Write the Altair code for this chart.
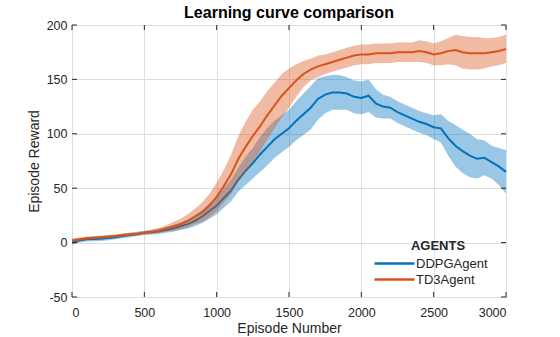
import altair as alt
import pandas as pd

episodes = list(range(0, 3001, 50))

td3_mean = [2, 3, 4, 4.5, 5, 5.5, 6, 7, 7.5, 8, 9, 10, 11, 13, 15, 17, 20, 24, 28, 34,
            42, 52, 63, 77, 88, 98, 107, 117, 126, 135, 142, 149, 155, 159, 162, 164,
            166, 168, 170, 172, 173, 173, 174, 174, 174, 175, 175, 175, 176, 175, 173,
            174, 176, 177, 175, 174, 174, 174, 175, 176, 178]
td3_hw = [2, 1.5, 1.5, 1.5, 1.5, 1.5, 1.5, 1.5, 1.5, 1.5, 1.5, 2, 2.5, 3, 4, 5, 6, 7, 9, 11,
          13, 15, 18, 21, 23, 24, 23, 22, 21, 20, 18, 15, 12, 10, 10, 9, 9, 9, 9, 9,
          9, 9, 9, 9, 9, 9, 9, 9, 10, 10, 10, 11, 12, 14, 15, 15, 15, 14, 13, 13, 13]

ddpg_mean = [0, 2, 3, 3.2, 3.5, 4.2, 5, 6, 7, 8, 9, 9.5, 10.5, 11.5, 13, 15, 17, 20, 24, 29,
             34, 41, 48, 58, 66, 73, 81, 88, 95, 100, 105, 112, 118, 124, 132, 136, 138,
             138, 137, 134, 133, 135, 128, 125, 124, 120, 117, 114, 111, 109, 106, 105,
             96, 89, 84, 80, 77, 78, 74, 70, 65]
ddpg_hw = [2, 2, 2, 2, 2, 2, 2, 2, 2, 2, 2, 2, 2.5, 2.5, 3, 3.5, 4, 5, 6, 7,
           8, 9, 10, 11, 13, 14, 16, 17, 17, 17, 17, 18, 19, 20, 19, 17, 16, 16, 15, 15,
           15, 15, 13, 11, 10, 10, 10, 10, 10, 10, 11, 13, 16, 19, 20, 20, 18, 16, 15, 17, 20]

agents = ["DDPGAgent", "TD3Agent"]
colors = ["#0072BD", "#D95319"]
xticks = [0, 500, 1000, 1500, 2000, 2500, 3000]
yticks = [-50, 0, 50, 100, 150, 200]

rows = []
for name, m, h in [("DDPGAgent", ddpg_mean, ddpg_hw), ("TD3Agent", td3_mean, td3_hw)]:
    for e, mv, hv in zip(episodes, m, h):
        rows.append({"agent": name, "episode": e, "mean": mv, "lo": mv - hv, "hi": mv + hv})
df = pd.DataFrame(rows)

W, H = 434, 272
FONT = "Liberation Sans"
TXT = "#262626"

xscale = alt.Scale(domain=[0, 3000], nice=False, zero=False)
yscale = alt.Scale(domain=[-50, 200], nice=False, zero=False)
xaxis = alt.Axis(values=xticks, title="Episode Number", grid=True,
                 labelExpr="datum.value + ''", labelPadding=9, titlePadding=3)
yaxis = alt.Axis(values=yticks, title="Episode Reward", grid=True,
                 labelExpr="datum.value + ''", labelPadding=5, titlePadding=5)
cscale = alt.Scale(domain=agents, range=colors)

base = alt.Chart(df)


def band(name, col):
    return base.transform_filter(alt.datum.agent == name).mark_area(
        color=col, opacity=0.4).encode(
        x=alt.X("episode:Q", scale=xscale, axis=xaxis),
        y=alt.Y("lo:Q", scale=yscale, axis=yaxis),
        y2="hi:Q")


legend = alt.Legend(
    title="AGENTS", orient="none", legendX=316, legendY=215, padding=0,
    titleFontSize=13, titleFontWeight="bold", titleAnchor="middle", titleColor=TXT,
    titleFont=FONT, labelFont=FONT, labelFontSize=13, labelColor=TXT,
    symbolType="M-20,0H20", symbolSize=4, symbolStrokeWidth=2.5,
    labelOffset=15, rowPadding=2, titlePadding=4)


def line(name):
    return base.transform_filter(alt.datum.agent == name).mark_line(
        strokeWidth=2).encode(
        x=alt.X("episode:Q", scale=xscale, axis=xaxis),
        y=alt.Y("mean:Q", scale=yscale, axis=yaxis),
        color=alt.Color("agent:N", scale=cscale, legend=legend))


xt = alt.Chart(pd.DataFrame({"t": xticks}))
yt = alt.Chart(pd.DataFrame({"t": yticks}))
tick_x_bottom = xt.mark_rule(color=TXT).encode(
    x=alt.X("t:Q", scale=xscale, axis=xaxis), y=alt.value(H), y2=alt.value(H - 5))
tick_x_top = xt.mark_rule(color=TXT).encode(
    x=alt.X("t:Q", scale=xscale, axis=xaxis), y=alt.value(0), y2=alt.value(5))
tick_y_left = yt.mark_rule(color=TXT).encode(
    y=alt.Y("t:Q", scale=yscale, axis=yaxis), x=alt.value(0), x2=alt.value(5))
tick_y_right = yt.mark_rule(color=TXT).encode(
    y=alt.Y("t:Q", scale=yscale, axis=yaxis), x=alt.value(W), x2=alt.value(W - 5))

chart = alt.layer(
    band("DDPGAgent", colors[0]), line("DDPGAgent"),
    band("TD3Agent", colors[1]), line("TD3Agent"),
    tick_x_bottom, tick_x_top, tick_y_left, tick_y_right,
).properties(
    width=W, height=H,
    autosize="none",
    padding={"left": 72, "top": 25, "right": 54, "bottom": 40},
    title=alt.TitleParams("Learning curve comparison", font=FONT, fontSize=16,
                          fontWeight="bold", color="#000000", offset=4,
                          baseline="bottom", anchor="middle", frame="group", dy=22),
    background="white",
).configure_view(
    stroke=TXT, strokeWidth=1
).configure_axis(
    domain=False, ticks=False, gridColor="#dedede", gridWidth=1,
    labelFont=FONT, labelFontSize=12.5, labelColor=TXT,
    titleFont=FONT, titleFontSize=14, titleFontWeight="normal", titleColor=TXT,
)

chart.save("out.html", embed_options={"renderer": "svg", "actions": False})
